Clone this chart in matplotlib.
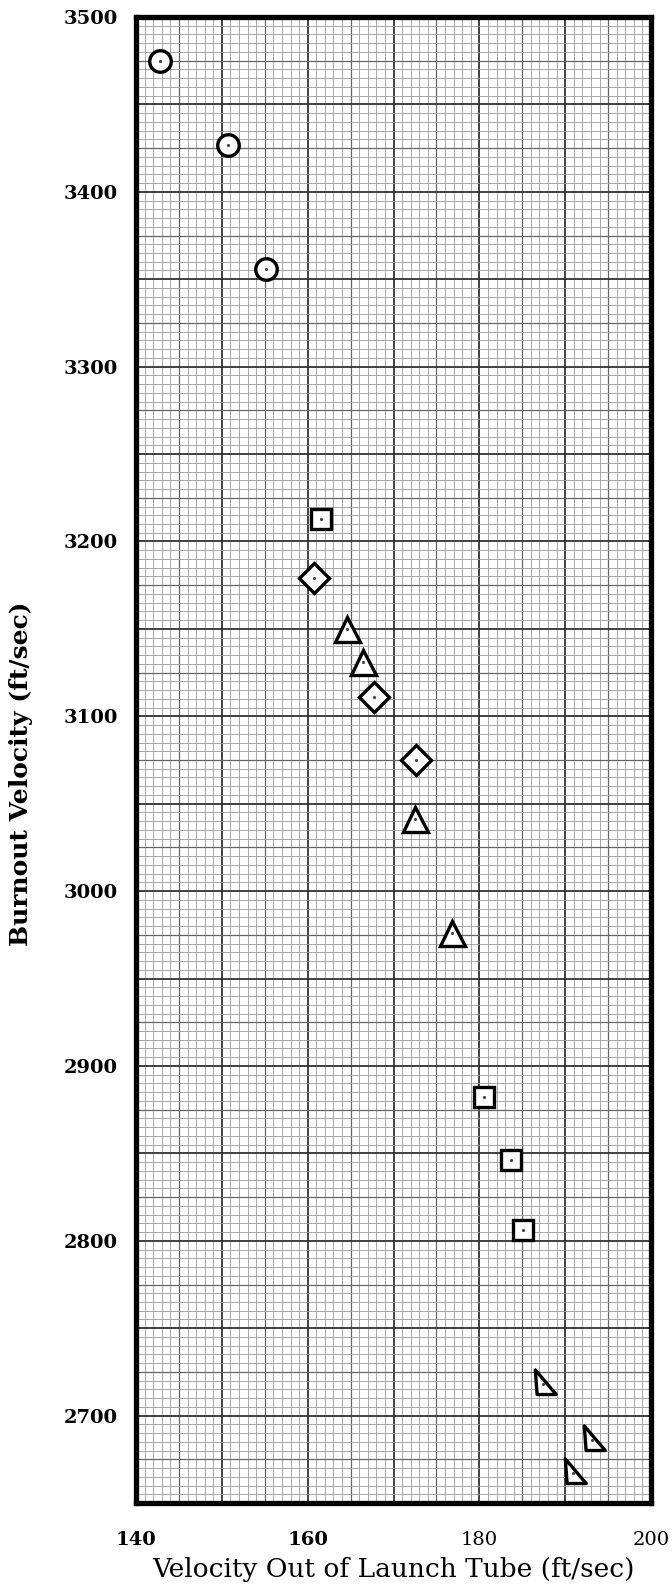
import matplotlib.pyplot as plt
import numpy as np
from matplotlib.path import Path

# launch tube exit velocity vs burnout velocity, grouped by marker shape
circle_x = [142.8, 150.7, 155.2]
circle_y = [3475, 3427, 3356]

square_x = [161.6, 180.5, 183.7, 185.1]
square_y = [3213, 2882, 2846, 2806]

diamond_x = [160.7, 167.7, 172.6]
diamond_y = [3179, 3111, 3075]

triangle_x = [164.6, 166.5, 172.5, 176.8]
triangle_y = [3150, 3131, 3041, 2976]

rtri_x = [187.4, 193.1, 190.9]
rtri_y = [2718, 2686, 2667]

x_ticks = [140, 160, 180, 200]
y_ticks = [2700, 2800, 2900, 3000, 3100, 3200, 3300, 3400, 3500]

# slanted right triangle marker used for the last group
rtri_marker = Path([(-0.45, 0.8), (-0.35, -0.55), (0.7, -0.55), (-0.45, 0.8)],
                   [Path.MOVETO, Path.LINETO, Path.LINETO, Path.CLOSEPOLY])

fig = plt.figure(figsize=(6.72, 15.86), dpi=100)
ax = fig.add_axes([0.2024, 0.0523, 0.7664, 0.937])

ax.set_xlim(140, 200)
ax.set_ylim(2650, 3500)

# graph paper
for v in np.arange(140, 201, 1):
    if v % 10 == 0:
        lw, c = 1.3, '#333333'
    elif v % 5 == 0:
        lw, c = 0.9, '#666666'
    else:
        lw, c = 0.6, '#9a9a9a'
    ax.axvline(v, color=c, lw=lw, zorder=0)
for v in np.arange(2650, 3501, 5):
    if v % 50 == 0:
        lw, c = 1.3, '#333333'
    elif v % 25 == 0:
        lw, c = 0.9, '#666666'
    else:
        lw, c = 0.6, '#9a9a9a'
    ax.axhline(v, color=c, lw=lw, zorder=0)

style = dict(linestyle='none', markerfacecolor='white', markeredgecolor='black',
             markeredgewidth=2.4, zorder=3)
ax.plot(circle_x, circle_y, marker='o', markersize=15.5, **style)
ax.plot(square_x, square_y, marker='s', markersize=14.5, **style)
ax.plot(diamond_x, diamond_y, marker='D', markersize=15, **style)
ax.plot(triangle_x, triangle_y, marker='^', markersize=18, **style)
ax.plot(rtri_x, rtri_y, marker=rtri_marker, markersize=21, **style)

# tiny centre dots
all_x = circle_x + square_x + diamond_x + triangle_x + rtri_x
all_y = circle_y + square_y + diamond_y + triangle_y + rtri_y
ax.plot(all_x, all_y, linestyle='none', marker='.', markersize=2.5, color='#444444', zorder=4)

for s in ax.spines.values():
    s.set_linewidth(3.8)
    s.set_color('black')

ax.set_xticks(x_ticks)
ax.set_yticks(y_ticks)
ax.tick_params(length=0)
ax.tick_params(axis='x', pad=20)
ax.tick_params(axis='y', pad=13)
xlabels = ax.set_xticklabels([str(t) for t in x_ticks], fontsize=14, family='DejaVu Serif')
for lab in xlabels[:2]:
    lab.set_fontweight('bold')
ax.set_yticklabels([str(t) for t in y_ticks], fontsize=14, family='DejaVu Serif',
                   fontweight='bold')

ax.set_xlabel('Velocity Out of Launch Tube (ft/sec)', fontsize=19, family='DejaVu Serif',
              labelpad=6)
ax.set_ylabel('Burnout Velocity (ft/sec)', fontsize=18, family='DejaVu Serif',
              fontweight='bold')
ax.yaxis.set_label_coords(-0.2, 0.491)

fig.savefig('out.png', dpi=100)
